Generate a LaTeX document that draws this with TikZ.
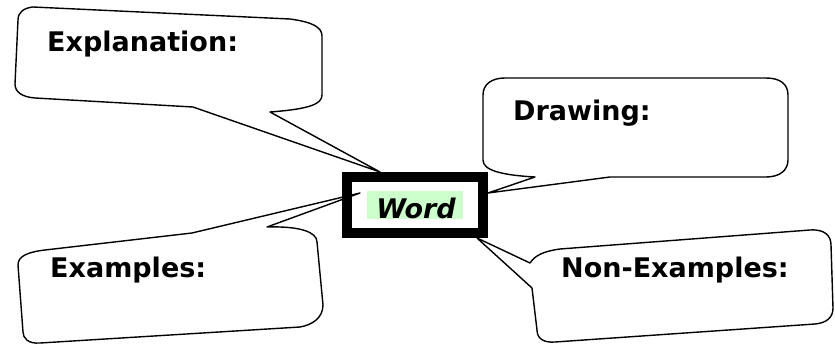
\documentclass[tikz,border=0pt]{standalone}
\usepackage{fontspec}
\setmainfont{DejaVu Sans}
\definecolor{hilite}{HTML}{CCFFCC}
\begin{document}
\begin{tikzpicture}[x=1pt,y=-1pt,
  bubble/.style={draw=black,fill=white,line width=1.4pt,line join=round},
  label/.style={anchor=base west,inner sep=0pt,font=\fontsize{27}{31}\selectfont\bfseries},
  wordbox/.style={draw=black,line width=10pt,minimum width=136pt,minimum height=56pt,inner sep=0pt}]
\useasboundingbox (0,0) rectangle (835,345);
% bubbles
\draw[bubble] (33,7) -- (290,19) .. controls (312,22) and (322,27) .. (322,36) -- (322,95) .. controls (322,104) and (310,109) .. (270,112) -- (380,172) -- (193,107) -- (35,98) .. controls (22,97) and (15,92) .. (15,84) -- (18,20) .. controls (18,12) and (24,8) .. (33,7) -- cycle;
\draw[bubble] (483,95) .. controls (483,84) and (492,78) .. (505,78) -- (766,78) .. controls (780,78) and (788,84) .. (788,95) -- (788,160) .. controls (788,170) and (780,177) .. (766,177) -- (610,177) -- (488,193) -- (535,177) .. controls (500,175) and (483,170) .. (483,160) -- cycle;
\draw[bubble] (192,233) -- (360,193) -- (267,227) .. controls (300,226) and (317,232) .. (317,242) -- (323,305) .. controls (323,318) and (312,325) .. (300,327) -- (40,343) .. controls (28,344) and (23,338) .. (23,332) -- (18,265) .. controls (18,256) and (28,252) .. (45,250) -- cycle;
\draw[bubble] (477,238) -- (530,263) .. controls (535,255) and (545,251) .. (560,249) -- (810,230) .. controls (825,229) and (831,236) .. (831,245) -- (833,308) .. controls (833,318) and (826,323) .. (815,324) -- (555,342) .. controls (543,343) and (537,338) .. (537,330) -- (532,288) -- cycle;
% labels
\node[label] (expl) at (47,52) {Explanation:};
\node[label] (draw) at (513,120) {Drawing:};
\node[label] (ex) at (50,277) {Examples:};
\node[label] (nonex) at (561,277) {Non-Examples:};
% word box
\node[wordbox] (word) at (415,205) {};
\fill[hilite] (367,191) rectangle (463,219);
\node[anchor=base,inner sep=0pt,font=\fontsize{27}{31}\selectfont\bfseries\itshape] (wordtext) at (416,218) {Word};
\end{tikzpicture}
\end{document}
